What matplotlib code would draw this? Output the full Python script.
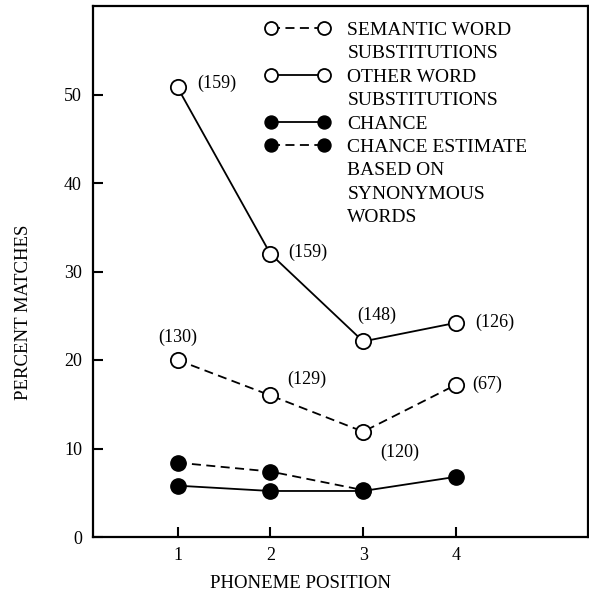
import numpy as np
import matplotlib.pyplot as plt
from matplotlib.lines import Line2D

plt.rcParams['font.family'] = ['Liberation Serif', 'DejaVu Serif']

# phoneme positions
pos = [1, 2, 3, 4]

# percent matches
semantic = [20.0, 16.0, 11.9, 17.2]
other = [50.8, 32.0, 22.1, 24.2]
chance = [5.8, 5.2, 5.2, 6.8]
chance_syn = [8.4, 7.4, 5.3]

# N in parentheses next to each point
semantic_n = ['(130)', '(129)', '(120)', '(67)']
other_n = ['(159)', '(159)', '(148)', '(126)']

fig = plt.figure(figsize=(5.89, 6.0), dpi=100)
ax = fig.add_axes([0.158, 0.105, 0.84, 0.885])

ms = 11
lw = 1.3
dash = (0, (5, 3))

l_sem, = ax.plot(pos, semantic, color='black', lw=lw, linestyle=dash,
                 marker='o', ms=ms, mfc='white', mec='black', mew=1.3)
l_oth, = ax.plot(pos, other, color='black', lw=lw, linestyle='-',
                 marker='o', ms=ms, mfc='white', mec='black', mew=1.3)
l_ch, = ax.plot(pos, chance, color='black', lw=lw, linestyle='-',
                marker='o', ms=ms, mfc='black', mec='black')
l_chs, = ax.plot(pos[:3], chance_syn, color='black', lw=lw, linestyle=dash,
                 marker='o', ms=ms, mfc='black', mec='black')

# point annotations (offsets in points)
tfs = 13
other_off = [(14, 3), (13, 1), (10, 19), (14, 0)]
other_ha = ['left', 'left', 'center', 'left']
for x, y, s, o, h in zip(pos, other, other_n, other_off, other_ha):
    ax.annotate(s, (x, y), xytext=o, textcoords='offset points',
                ha=h, va='center', fontsize=tfs)

sem_off = [(0, 16), (12, 11.5), (26, -15), (11.5, 0)]
sem_ha = ['center', 'left', 'center', 'left']
for x, y, s, o, h in zip(pos, semantic, semantic_n, sem_off, sem_ha):
    ax.annotate(s, (x, y), xytext=o, textcoords='offset points',
                ha=h, va='center', fontsize=tfs)

ax.set_xlim(0.09, 5.42)
ax.set_ylim(0, 60)
ax.set_xticks(pos)
ax.set_yticks([0, 10, 20, 30, 40, 50])
ax.tick_params(direction='in', length=7, width=1.5, labelsize=13,
               top=False, right=False)
ax.tick_params(axis='y', pad=8)
ax.tick_params(axis='x', pad=7)
for sp in ax.spines.values():
    sp.set_linewidth(1.6)

# legend: one entry per text line so that the keys sit on the first line
blank = Line2D([], [], linestyle='none', marker='none')
handles = [l_sem, blank, l_oth, blank, l_ch, l_chs, blank, blank, blank]
labels = ['SEMANTIC WORD', 'SUBSTITUTIONS', 'OTHER WORD', 'SUBSTITUTIONS',
          'CHANCE', 'CHANCE ESTIMATE', 'BASED ON', 'SYNONYMOUS', 'WORDS']
leg = ax.legend(handles, labels, loc='upper left',
                bbox_to_anchor=(0.333, 0.986), frameon=False, numpoints=2,
                fontsize=14, handlelength=3.28, handletextpad=0.93,
                labelspacing=0.3, markerscale=0.85, borderaxespad=0)

fig.text(0.04, 0.48, 'PERCENT MATCHES', rotation=90, ha='center',
         va='center', fontsize=13.5)
fig.text(0.51, 0.028, 'PHONEME POSITION', ha='center', va='center',
         fontsize=13.5)

fig.savefig('out.png', dpi=100)
